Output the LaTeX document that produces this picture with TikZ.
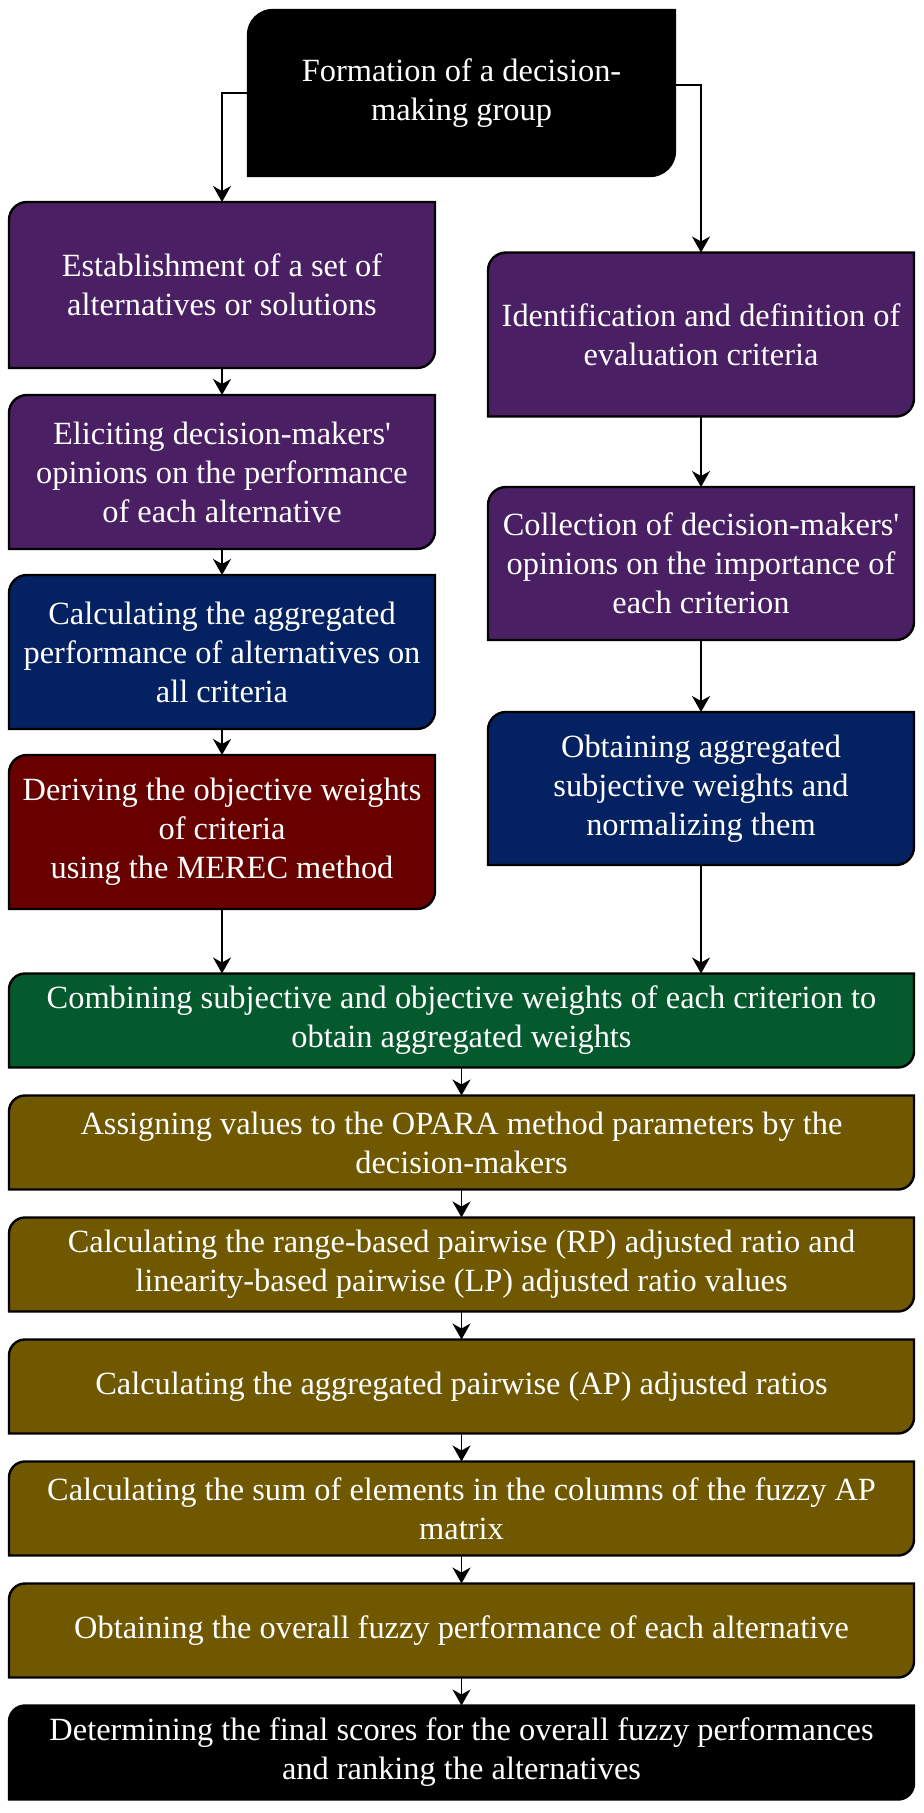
\documentclass[tikz,border=0pt]{standalone}
\usepackage{fontspec}
\setmainfont{Liberation Serif}
\usetikzlibrary{arrows.meta,backgrounds}

\definecolor{stagepurple}{HTML}{4A1F63}
\definecolor{stageblue}{HTML}{042262}
\definecolor{stagered}{HTML}{680000}
\definecolor{stagegreen}{HTML}{055A2D}
\definecolor{stageolive}{HTML}{705800}

\tikzstyle{stage} = [rectangle,draw=none,outer sep=0pt,inner sep=0pt,text=white,align=center,font=\fontsize{16.2}{19.5}\selectfont]
\tikzstyle{colbox} = [stage,minimum width=213pt,minimum height=77pt]
\tikzstyle{widebox} = [stage,minimum width=452.5pt,minimum height=47pt]
\tikzstyle{flow} = [-{Stealth[length=8pt,width=9pt,inset=2.5pt]},line width=0.8pt]

\begin{document}
\begin{tikzpicture}[x=0.5pt,y=-0.5pt]
	\useasboundingbox (0,0) rectangle (923,1813);
	% top of the chart
	\node[stage,minimum width=213.5pt,minimum height=83pt] (form) at (461.5,93) {Formation of a decision-\\making group};
	% left column
	\node[colbox,minimum height=83pt] (estab) at (222,285) {Establishment of a set of\\alternatives or solutions};
	\node[colbox] (elicit) at (222,472) {Eliciting decision-makers\textquotesingle\\opinions on the performance\\of each alternative};
	\node[colbox] (aggperf) at (222,652) {Calculating the aggregated\\performance of alternatives on\\all criteria};
	\node[colbox] (merec) at (222,832) {Deriving the objective weights\\of criteria\\using the MEREC method};
	% right column
	\node[colbox,minimum height=82pt] (ident) at (701,334.5) {Identification and definition of\\evaluation criteria};
	\node[colbox,minimum height=76.5pt] (collect) at (701,563.5) {Collection of decision-makers\textquotesingle\\opinions on the importance of\\each criterion};
	\node[colbox,minimum height=76.5pt] (subj) at (701,788.5) {Obtaining aggregated\\subjective weights and\\normalizing them};
	% OPARA part
	\node[widebox] (combine) at (461.5,1020.5) {Combining subjective and objective weights of each criterion to\\obtain aggregated weights};
	\node[widebox] (assign) at (461.5,1142.5) {Assigning values to the OPARA method parameters by the\\decision-makers};
	\node[widebox] (rplp) at (461.5,1264.5) {Calculating the range-based pairwise (RP) adjusted ratio and\\linearity-based pairwise (LP) adjusted ratio values};
	\node[widebox] (apr) at (461.5,1386.5) {Calculating the aggregated pairwise (AP) adjusted ratios};
	\node[widebox] (sum) at (461.5,1508.5) {Calculating the sum of elements in the columns of the fuzzy AP\\matrix};
	\node[widebox] (overall) at (461.5,1630.5) {Obtaining the overall fuzzy performance of each alternative};
	\node[widebox] (final) at (461.5,1752.5) {Determining the final scores for the overall fuzzy performances\\and ranking the alternatives};

	\begin{pgfonlayer}{background}
		\foreach \n/\c/\r in {form/black/12.5pt,estab/stagepurple/9pt,elicit/stagepurple/9pt,aggperf/stageblue/9pt,merec/stagered/9pt,ident/stagepurple/9pt,collect/stagepurple/9pt,subj/stageblue/9pt,combine/stagegreen/8pt,assign/stageolive/8pt,rplp/stageolive/8pt,apr/stageolive/8pt,sum/stageolive/8pt,overall/stageolive/8pt,final/black/8pt}
		{\filldraw[fill=\c,draw=black,line width=1.2pt] ([yshift=-\r]\n.north west) arc[start angle=180,end angle=90,radius=\r] -- (\n.north east) -- ([yshift=\r]\n.south east) arc[start angle=0,end angle=-90,radius=\r] -- (\n.south west) -- cycle;}
	\end{pgfonlayer}

	\draw[flow] (form.west) -| (estab.north);
	\draw[flow] ([yshift=4pt]form.east) -| (ident.north);
	\draw[flow] (estab) -- (elicit);
	\draw[flow] (elicit) -- (aggperf);
	\draw[flow] (aggperf) -- (merec);
	\draw[flow] (merec) -- (merec |- combine.north);
	\draw[flow] (ident) -- (collect);
	\draw[flow] (collect) -- (subj);
	\draw[flow] (subj) -- (subj |- combine.north);
	\draw[flow] (combine) -- (assign);
	\draw[flow] (assign) -- (rplp);
	\draw[flow] (rplp) -- (apr);
	\draw[flow] (apr) -- (sum);
	\draw[flow] (sum) -- (overall);
	\draw[flow] (overall) -- (final);
\end{tikzpicture}
\end{document}
